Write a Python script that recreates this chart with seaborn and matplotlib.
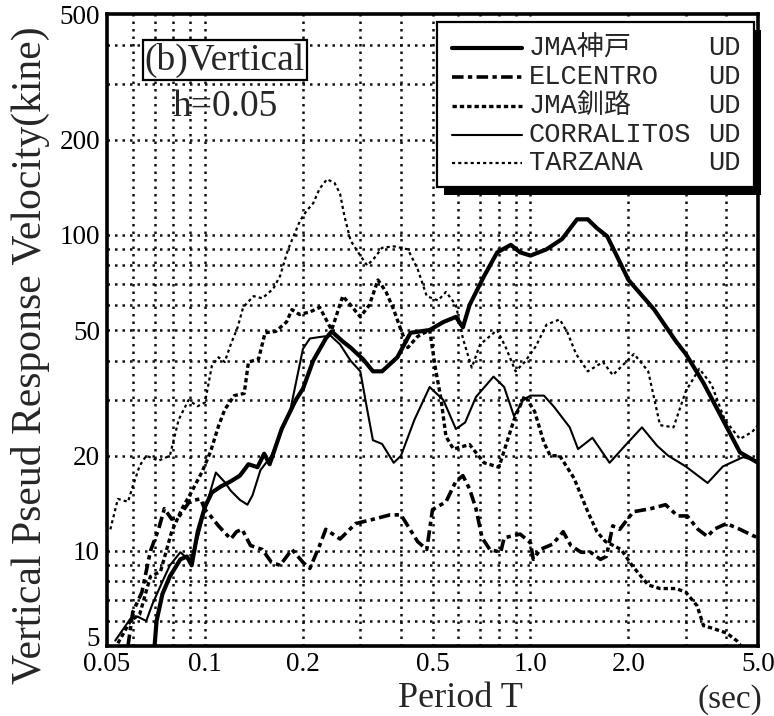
import matplotlib
matplotlib.use("Agg")
import matplotlib.pyplot as plt
import matplotlib.transforms as mtrans
import seaborn as sns
import pandas as pd
from matplotlib.lines import Line2D
from matplotlib.patches import Rectangle
from matplotlib.ticker import FixedLocator, NullFormatter

# ---------------- data (period T [s], pseudo velocity [kine]) ----------------
kobe_T = [0.070, 0.071, 0.074, 0.078, 0.084, 0.088, 0.091, 0.095, 0.100, 0.105,
          0.112, 0.120, 0.128, 0.136, 0.145, 0.152, 0.158, 0.172, 0.190, 0.200,
          0.215, 0.235, 0.245, 0.265, 0.280, 0.306, 0.328, 0.350, 0.390, 0.428,
          0.490, 0.540, 0.590, 0.620, 0.650, 0.720, 0.790, 0.870, 0.930, 1.00,
          1.12, 1.25, 1.39, 1.50, 1.60, 1.72, 1.85, 2.00, 2.40, 2.80,
          3.00, 3.40, 3.90, 4.40, 5.00]
kobe_V = [5.0, 6.0, 7.3, 8.3, 9.4, 9.6, 9.0, 11.5, 13.8, 15.3,
          16.0, 16.6, 17.3, 18.8, 18.4, 20.3, 18.8, 24.3, 30.0, 32.6,
          40.0, 47.0, 49.5, 46.0, 44.0, 40.4, 37.0, 37.0, 41.0, 49.0,
          50.0, 53.0, 55.0, 51.0, 60.0, 74.0, 88.0, 93.0, 88.0, 86.0,
          90.0, 97.0, 112.0, 112.0, 105.0, 99.0, 85.0, 72.0, 58.0, 46.0,
          42.0, 34.0, 26.0, 20.5, 19.0]

elc_T = [0.058, 0.060, 0.064, 0.068, 0.072, 0.075, 0.079, 0.083, 0.090, 0.097,
         0.100, 0.104, 0.110, 0.120, 0.125, 0.130, 0.138, 0.150, 0.160, 0.170,
         0.185, 0.200, 0.210, 0.225, 0.235, 0.260, 0.290, 0.330, 0.370, 0.400,
         0.450, 0.480, 0.500, 0.550, 0.590, 0.620, 0.650, 0.680, 0.710, 0.750,
         0.810, 0.830, 0.930, 1.00, 1.02, 1.07, 1.17, 1.26, 1.33, 1.43,
         1.53, 1.64, 1.71, 1.79, 1.88, 2.07, 2.34, 2.60, 2.83, 3.03,
         3.27, 3.50, 3.66, 4.00, 4.40, 4.80, 5.00]
elc_V = [5.0, 6.4, 7.4, 10.0, 11.7, 13.6, 12.6, 12.8, 14.4, 14.6,
         13.5, 12.9, 12.0, 10.9, 11.5, 11.7, 10.4, 10.1, 9.2, 9.0,
         10.1, 9.2, 8.8, 10.4, 11.7, 10.9, 12.2, 12.6, 13.0, 13.0,
         10.7, 10.1, 13.5, 14.3, 16.6, 17.3, 15.7, 13.6, 11.0, 10.1,
         9.9, 11.0, 11.3, 10.6, 9.4, 10.1, 10.5, 11.5, 10.4, 9.9,
         9.9, 9.4, 9.6, 12.0, 11.7, 13.3, 13.6, 14.0, 12.9, 12.9,
         11.7, 11.1, 11.7, 12.2, 11.7, 11.2, 11.0]

kushiro_T = [0.054, 0.059, 0.063, 0.068, 0.073, 0.079, 0.085, 0.091, 0.098, 0.104,
             0.110, 0.115, 0.123, 0.132, 0.136, 0.146, 0.153, 0.165, 0.178, 0.185,
             0.195, 0.210, 0.225, 0.245, 0.265, 0.280, 0.300, 0.320, 0.340, 0.360,
             0.380, 0.400, 0.420, 0.450, 0.490, 0.510, 0.530, 0.550, 0.580, 0.650,
             0.720, 0.800, 0.890, 0.960, 1.03, 1.10, 1.15, 1.23, 1.36, 1.50,
             1.60, 1.70, 1.90, 2.05, 2.30, 2.50, 2.80, 3.00, 3.25, 3.40,
             3.60, 4.00, 4.30, 4.50]
kushiro_V = [5.1, 6.0, 6.3, 8.3, 8.6, 11.5, 13.6, 15.4, 17.8, 20.6,
             24.8, 28.0, 31.0, 31.5, 39.6, 40.4, 49.0, 49.5, 53.0, 58.0,
             56.0, 57.0, 59.0, 50.0, 64.0, 60.0, 55.0, 60.0, 72.0, 66.0,
             58.0, 50.0, 44.0, 47.7, 50.0, 38.0, 30.6, 23.0, 21.0, 21.7,
             19.0, 18.4, 26.0, 31.0, 27.6, 22.0, 20.0, 20.0, 17.0, 13.3,
             11.5, 10.7, 10.1, 9.0, 7.8, 7.6, 7.6, 7.4, 6.7, 5.8,
             5.7, 5.5, 5.2, 4.9]

corr_T = [0.053, 0.059, 0.062, 0.066, 0.069, 0.074, 0.078, 0.084, 0.090, 0.095,
          0.100, 0.108, 0.115, 0.120, 0.128, 0.135, 0.140, 0.148, 0.160, 0.175,
          0.183, 0.200, 0.210, 0.225, 0.243, 0.260, 0.280, 0.300, 0.315, 0.328,
          0.350, 0.380, 0.400, 0.440, 0.490, 0.540, 0.590, 0.630, 0.680, 0.770,
          0.830, 0.890, 0.950, 1.00, 1.10, 1.18, 1.32, 1.40, 1.55, 1.75,
          1.95, 2.20, 2.45, 2.65, 3.00, 3.50, 3.90, 4.50, 5.00]
corr_V = [5.2, 6.1, 6.2, 6.0, 6.8, 8.0, 9.0, 9.9, 9.3, 11.0,
          13.5, 17.7, 16.5, 15.5, 14.5, 14.0, 15.0, 18.0, 20.0, 25.0,
          28.0, 43.6, 47.0, 47.5, 48.0, 45.0, 40.0, 37.0, 28.0, 22.4,
          21.8, 19.0, 20.0, 26.0, 33.0, 30.0, 24.3, 25.5, 30.7, 35.6,
          33.0, 26.7, 30.0, 31.0, 31.0, 28.6, 24.6, 21.0, 22.8, 19.0,
          21.5, 24.6, 21.5, 20.0, 18.5, 16.4, 18.5, 19.8, 19.2]

tarz_T = [0.0512, 0.054, 0.058, 0.060, 0.063, 0.066, 0.072, 0.078, 0.083, 0.089,
          0.095, 0.100, 0.105, 0.110, 0.115, 0.120, 0.126, 0.131, 0.141, 0.150,
          0.162, 0.170, 0.180, 0.196, 0.205, 0.215, 0.225, 0.237, 0.250, 0.260,
          0.268, 0.280, 0.300, 0.315, 0.330, 0.350, 0.380, 0.420, 0.450, 0.480,
          0.520, 0.550, 0.590, 0.620, 0.660, 0.700, 0.790, 0.840, 0.900, 0.960,
          1.04, 1.12, 1.23, 1.30, 1.38, 1.50, 1.67, 1.79, 2.08, 2.30,
          2.50, 2.75, 3.00, 3.30, 3.60, 3.95, 4.40, 4.80, 5.00]
tarz_V = [11.7, 14.6, 14.3, 16.0, 18.6, 20.0, 19.3, 20.0, 26.0, 30.0,
          28.7, 29.5, 38.5, 41.0, 39.6, 45.0, 51.0, 59.0, 64.0, 63.0,
          67.5, 74.0, 90.0, 111.0, 119.0, 126.0, 140.0, 150.0, 146.0, 135.0,
          115.0, 96.0, 86.0, 80.0, 84.0, 91.0, 92.0, 90.0, 78.0, 64.0,
          62.0, 66.0, 60.0, 47.0, 38.0, 45.0, 50.0, 44.0, 37.0, 39.6,
          44.5, 52.0, 54.0, 49.0, 42.0, 37.0, 39.6, 36.0, 42.0, 37.0,
          25.0, 24.6, 32.0, 37.7, 33.6, 26.0, 22.6, 23.8, 25.0]

series_names = ["JMA神戸", "ELCENTRO", "JMA釧路", "CORRALITOS", "TARZANA"]
component = "UD"
x_tick_vals = [0.05, 0.1, 0.2, 0.5, 1.0, 2.0, 5.0]
x_tick_labels = ["0.05", "0.1", "0.2", "0.5", "1.0", "2.0", "5.0"]
y_tick_vals = [5, 10, 20, 50, 100, 200, 500]
y_tick_labels = ["5", "10", "20", "50", "100", "200", "500"]
x_grid = [0.06, 0.07, 0.08, 0.09, 0.1, 0.2, 0.3, 0.4, 0.5, 0.6, 0.7, 0.8, 0.9, 1.0, 2.0, 3.0, 4.0]
y_grid = [6, 7, 8, 9, 10, 20, 30, 40, 50, 60, 70, 80, 90, 100, 200, 300, 400]

# ---------------- styling ----------------
sns.set_theme(style="white")
plt.rcParams["font.family"] = ["Liberation Serif", "Noto Sans CJK JP"]

styles = {
    "JMA神戸":    dict(lw=3.0, ls="-"),
    "ELCENTRO":   dict(lw=2.6, ls=(0, (3.2, 1.2, 1.2, 1.2))),
    "JMA釧路":    dict(lw=2.4, ls=(0, (1.3, 0.9))),
    "CORRALITOS": dict(lw=1.5, ls="-"),
    "TARZANA":    dict(lw=1.6, ls=(0, (1.4, 1.4))),
}

frames = []
for name, T, V in zip(series_names,
                      [kobe_T, elc_T, kushiro_T, corr_T, tarz_T],
                      [kobe_V, elc_V, kushiro_V, corr_V, tarz_V]):
    frames.append(pd.DataFrame({"T": T, "V": V, "record": name}))
df = pd.concat(frames, ignore_index=True)

fig = plt.figure(figsize=(7.74, 7.16), dpi=100)
ax = fig.add_axes([107 / 774, 1 - 646 / 716, 651 / 774, 632 / 716])
ax.set_xscale("log")
ax.set_yscale("log")
ax.set_xlim(0.05, 5.0)
ax.set_ylim(5, 500)

# dotted grid
for v in x_grid:
    ax.axvline(v, color="#111111", lw=1.8, ls=(0, (1, 2.0)), zorder=1)
for v in y_grid:
    ax.axhline(v, color="#111111", lw=1.8, ls=(0, (1, 2.0)), zorder=1)

for name in series_names:
    sub = df[df["record"] == name]
    st = styles[name]
    sns.lineplot(data=sub, x="T", y="V", ax=ax, color="black", estimator=None,
                 sort=False, lw=st["lw"], linestyle=st["ls"], zorder=3,
                 legend=False, solid_joinstyle="round")

# ticks
ax.xaxis.set_major_locator(FixedLocator(x_tick_vals))
ax.set_xticklabels(x_tick_labels)
ax.yaxis.set_major_locator(FixedLocator(y_tick_vals))
ax.set_yticklabels(y_tick_labels)
ax.xaxis.set_minor_locator(FixedLocator([0.1, 1.0]))
ax.yaxis.set_minor_locator(FixedLocator([10, 100]))
ax.xaxis.set_minor_formatter(NullFormatter())
ax.yaxis.set_minor_formatter(NullFormatter())
ax.tick_params(which="major", length=0, labelsize=19.5, colors="black")
ax.tick_params(axis="x", which="major", pad=4)
ax.tick_params(axis="y", which="major", pad=5)
ax.tick_params(which="minor", length=6, width=1.5, direction="out",
               top=True, bottom=True, left=True, right=True, color="black")
# lift the lowest y label a little so it clears "0.05"
lbl5 = ax.get_yticklabels()[0]
lbl5.set_transform(lbl5.get_transform() +
                   mtrans.ScaledTranslation(0, 7 / 72, fig.dpi_scale_trans))
ax.set_xlabel("")
ax.set_ylabel("")
for sp in ax.spines.values():
    sp.set_visible(True)
    sp.set_linewidth(2.6)
    sp.set_color("black")
    sp.set_zorder(6)

# axis titles
fig.text(30 / 774, 1 - 355 / 716, "Vertical Pseud Response Velocity(kine)",
         rotation=90, ha="center", va="center", fontsize=30)
fig.text(460 / 774, 1 - 715 / 716, "Period T", ha="center", va="bottom", fontsize=26)
fig.text(730 / 774, 1 - 715 / 716, "(sec)", ha="center", va="bottom", fontsize=24)

# annotations
ax.text(0.181, 0.927, "(b)Vertical", transform=ax.transAxes, ha="center", va="center",
        fontsize=27, zorder=8,
        bbox=dict(boxstyle="square,pad=0.06", fc="white", ec="black", lw=1.6))
ax.text(0.181, 0.853, "h=0.05", transform=ax.transAxes, ha="center", va="center",
        fontsize=27, zorder=8)

# legend box with heavy shadow
bx0, by0, bw, bh = 0.507, 0.726, 0.487, 0.261
shadow = Rectangle((bx0 + 0.010, by0 - 0.012), bw, bh, transform=ax.transAxes,
                   fc="black", ec="black", lw=0, zorder=9, clip_on=False)
box = Rectangle((bx0, by0), bw, bh, transform=ax.transAxes,
                fc="white", ec="black", lw=1.6, zorder=10, clip_on=False)
ax.add_patch(shadow)
ax.add_patch(box)
row_y = [0.946, 0.900, 0.854, 0.809, 0.764]
for name, yy in zip(series_names, row_y):
    st = styles[name]
    ax.add_line(Line2D([0.530, 0.637], [yy, yy], transform=ax.transAxes, color="black",
                       lw=st["lw"], ls=st["ls"], zorder=11, clip_on=False))
    ax.text(0.648, yy, name, transform=ax.transAxes, ha="left", va="center",
            fontsize=19.5, family=["Liberation Mono", "Noto Sans CJK JP"], zorder=11)
    ax.text(0.923, yy, component, transform=ax.transAxes, ha="left", va="center",
            fontsize=19.5, family=["Liberation Mono", "Noto Sans CJK JP"], zorder=11)

fig.savefig("out.png", dpi=100, facecolor="white")
